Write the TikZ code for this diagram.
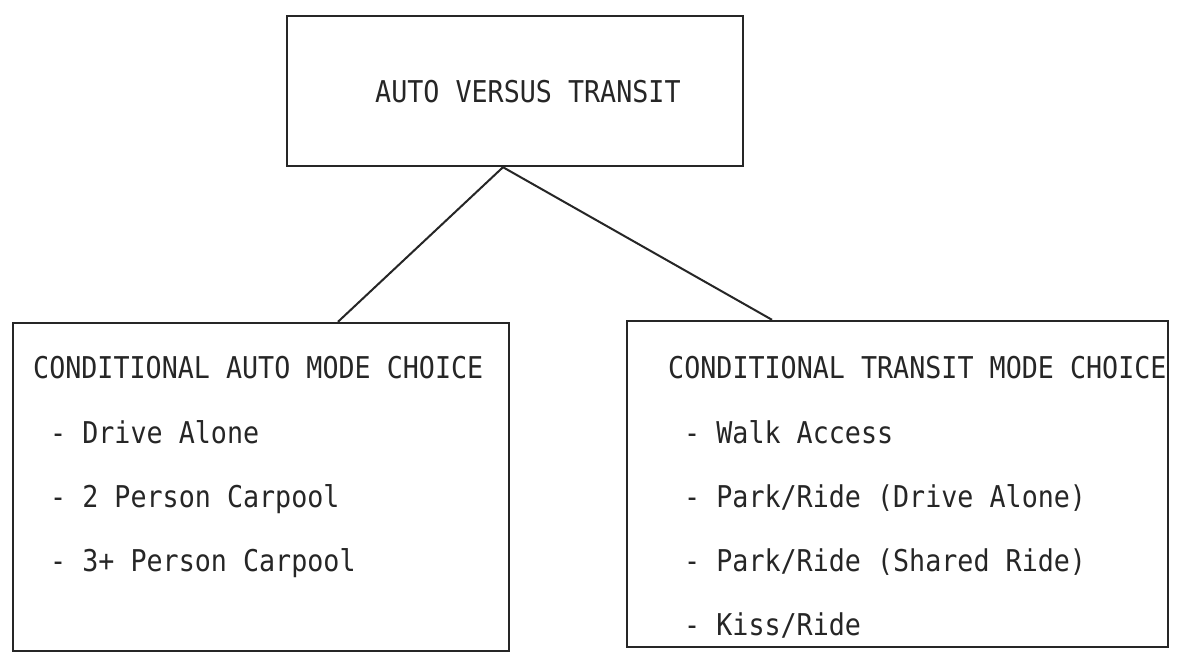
\documentclass[tikz,border=0pt]{standalone}
\usepackage{fontspec}
\newfontfamily\tw[FakeStretch=0.89]{DejaVu Sans Mono}
\begin{document}
\begin{tikzpicture}[x=1pt,y=-1pt,
  boxnode/.style={draw=black!85, line width=2.4pt, rectangle, inner sep=0pt},
  txt/.style={anchor=base west, inner sep=0pt, font=\tw\fontsize{30}{36}\selectfont, text=black!85},
  conn/.style={draw=black!85, line width=2pt}]
\useasboundingbox (0,0) rectangle (1182,653);
\fill[white] (0,0) rectangle (1182,653);
% boxes
\node[boxnode, minimum width=456pt, minimum height=150pt] (top) at (515,91) {};
\node[boxnode, minimum width=496pt, minimum height=328pt] (auto) at (261,487) {};
\node[boxnode, minimum width=541pt, minimum height=326pt] (transit) at (897.5,484) {};
% texts
\node[txt] (ttop) at (375,102) {AUTO VERSUS TRANSIT};
\node[txt] (ahead) at (33,378) {CONDITIONAL AUTO MODE CHOICE};
\node[txt] (a1) at (50,443) {- Drive Alone};
\node[txt] (a2) at (50,507) {- 2 Person Carpool};
\node[txt] (a3) at (50,571) {- 3+ Person Carpool};
\node[txt] (thead) at (668,378) {CONDITIONAL TRANSIT MODE CHOICE};
\node[txt] (t1) at (684,443) {- Walk Access};
\node[txt] (t2) at (684,507) {- Park/Ride (Drive Alone)};
\node[txt] (t3) at (684,571) {- Park/Ride (Shared Ride)};
\node[txt] (t4) at (684,635) {- Kiss/Ride};
% connectors
\draw[conn] ([xshift=-12pt]top.south) -- ([xshift=77pt]auto.north);
\draw[conn] ([xshift=-12pt]top.south) -- ([xshift=-125.5pt]transit.north);
\end{tikzpicture}
\end{document}
